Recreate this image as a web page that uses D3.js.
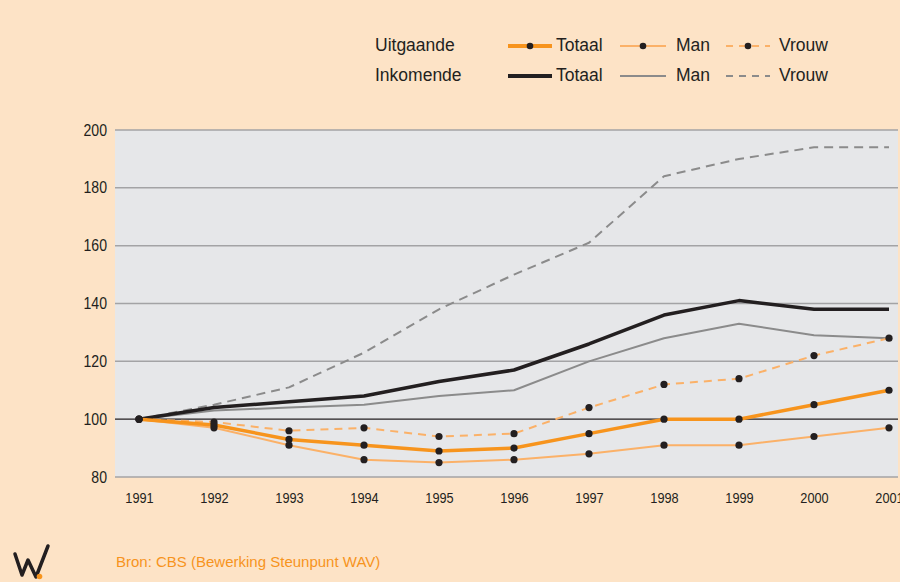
<!DOCTYPE html>
<html>
<head>
<meta charset="utf-8">
<script src="https://cdn.jsdelivr.net/npm/d3@7"></script>
<style>
  body { margin: 0; background: #fde3c6; }
  svg { display: block; font-family: "Liberation Sans", Arial, sans-serif; }
</style>
</head>
<body>
<svg id="chart" width="900" height="582"></svg>
<script>
const years = [1991, 1992, 1993, 1994, 1995, 1996, 1997, 1998, 1999, 2000, 2001];
const yTicks = [80, 100, 120, 140, 160, 180, 200];

const uitTotaal = [100, 98, 93, 91, 89, 90, 95, 100, 100, 105, 110];
const uitMan    = [100, 97, 91, 86, 85, 86, 88, 91, 91, 94, 97];
const uitVrouw  = [100, 99, 96, 97, 94, 95, 104, 112, 114, 122, 128];
const inTotaal  = [100, 104, 106, 108, 113, 117, 126, 136, 141, 138, 138];
const inMan     = [100, 103, 104, 105, 108, 110, 120, 128, 133, 129, 128];
const inVrouw   = [100, 105, 111, 123, 138, 150, 161, 184, 190, 194, 194];

const ORANGE = '#f7941d';
const LIGHT_ORANGE = '#fbb168';
const BLACK = '#231f20';
const GREY = '#8b8b8b';

const root = d3.select('#chart');

const PLOT_LEFT = 115;
const PLOT_RIGHT = 898;
const PLOT_TOP = 130;
const PLOT_BOTTOM = 477;

const x = d3.scalePoint().domain(years).range([139, 889]);
const y = d3.scaleLinear().domain([80, 200]).range([PLOT_BOTTOM, PLOT_TOP]);

// page background
root.append('rect')
    .attr('width', 900).attr('height', 582).attr('fill', '#fde3c6');

// plot area
root.append('rect')
    .attr('x', PLOT_LEFT).attr('y', PLOT_TOP)
    .attr('width', PLOT_RIGHT - PLOT_LEFT).attr('height', PLOT_BOTTOM - PLOT_TOP)
    .attr('fill', '#e6e7e9');

// grid
root.append('g')
    .selectAll('line')
    .data(yTicks)
    .join('line')
    .attr('x1', PLOT_LEFT).attr('x2', PLOT_RIGHT)
    .attr('y1', d => y(d)).attr('y2', d => y(d))
    .attr('stroke', d => d === 100 ? BLACK : '#a3a3a5')
    .attr('stroke-width', d => d === 100 ? 1.2 : 1.5);

// y axis labels (condensed look: squeeze horizontally)
const yAxis = root.append('g')
    .attr('transform', `translate(${PLOT_LEFT - 8},0)`)
    .call(d3.axisLeft(y).tickValues(yTicks).tickSize(0).tickPadding(0));
yAxis.select('.domain').remove();
yAxis.selectAll('text')
    .attr('font-size', 16)
    .attr('fill', BLACK)
    .attr('transform', 'scale(0.88,1)')
    .attr('x', 0);

// x axis labels
const xAxis = root.append('g')
    .attr('transform', `translate(0,${PLOT_BOTTOM + 21})`)
    .call(d3.axisBottom(x).tickSize(0).tickPadding(0));
xAxis.select('.domain').remove();
xAxis.selectAll('.tick text')
    .attr('dy', '0.35em')
    .attr('font-size', 15)
    .attr('fill', BLACK)
    .attr('transform', 'scale(0.85,1)');

const line = d3.line().x((d, i) => x(years[i])).y(d => y(d));

const series = [
    { values: inVrouw,  color: GREY,         width: 2,   dash: '9,6', dots: false },
    { values: inMan,    color: GREY,         width: 2,   dash: null,  dots: false },
    { values: inTotaal, color: BLACK,        width: 3.5, dash: null,  dots: false },
    { values: uitVrouw, color: LIGHT_ORANGE, width: 2,   dash: '8,6', dots: true },
    { values: uitMan,   color: LIGHT_ORANGE, width: 2,   dash: null,  dots: true },
    { values: uitTotaal,color: ORANGE,       width: 3.5, dash: null,  dots: true },
];

series.forEach(s => {
    root.append('path')
        .datum(s.values)
        .attr('d', line)
        .attr('fill', 'none')
        .attr('stroke', s.color)
        .attr('stroke-width', s.width)
        .attr('stroke-dasharray', s.dash)
        .attr('stroke-linejoin', 'round');
});

series.filter(s => s.dots).forEach(s => {
    root.append('g')
        .selectAll('circle')
        .data(s.values)
        .join('circle')
        .attr('cx', (d, i) => x(years[i]))
        .attr('cy', d => y(d))
        .attr('r', 3.6)
        .attr('fill', BLACK);
});

// legend
const legendRows = [
    { label: 'Uitgaande', y: 46, items: [
        { name: 'Totaal', color: ORANGE, width: 4, dash: null, dot: true },
        { name: 'Man', color: LIGHT_ORANGE, width: 2, dash: null, dot: true },
        { name: 'Vrouw', color: LIGHT_ORANGE, width: 2, dash: '7,6', dot: true },
    ]},
    { label: 'Inkomende', y: 76, items: [
        { name: 'Totaal', color: BLACK, width: 4, dash: null, dot: false },
        { name: 'Man', color: GREY, width: 2, dash: null, dot: false },
        { name: 'Vrouw', color: GREY, width: 2, dash: '7,6', dot: false },
    ]},
];
const itemX = [
    { x1: 508, x2: 552, tx: 556 },
    { x1: 620, x2: 666, tx: 676 },
    { x1: 726, x2: 770, tx: 779 },
];

legendRows.forEach(row => {
    root.append('text')
        .text(row.label)
        .attr('x', 375).attr('y', row.y)
        .attr('dominant-baseline', 'middle')
        .attr('font-size', 17.5)
        .attr('fill', BLACK);
    row.items.forEach((it, i) => {
        const p = itemX[i];
        root.append('line')
            .attr('x1', p.x1).attr('x2', p.x2)
            .attr('y1', row.y).attr('y2', row.y)
            .attr('stroke', it.color)
            .attr('stroke-width', it.width)
            .attr('stroke-dasharray', it.dash);
        if (it.dot) {
            root.append('circle')
                .attr('cx', (p.x1 + p.x2) / 2).attr('cy', row.y)
                .attr('r', 3.3).attr('fill', BLACK);
        }
        root.append('text')
            .text(it.name)
            .attr('x', p.tx).attr('y', row.y)
            .attr('dominant-baseline', 'middle')
            .attr('font-size', 17.5)
            .attr('fill', BLACK);
    });
});

// logo
root.append('path')
    .attr('d', 'M15,554 L22,575 L28,560 L36,577 L48,546')
    .attr('fill', 'none')
    .attr('stroke', BLACK)
    .attr('stroke-width', 3.5)
    .attr('stroke-linejoin', 'round')
    .attr('stroke-linecap', 'round');
root.append('circle')
    .attr('cx', 39.5).attr('cy', 576.5).attr('r', 2.8).attr('fill', ORANGE);

// source
root.append('text')
    .text('Bron: CBS (Bewerking Steunpunt WAV)')
    .attr('x', 116).attr('y', 563)
    .attr('dominant-baseline', 'middle')
    .attr('font-size', 15)
    .attr('fill', ORANGE);
</script>
</body>
</html>
